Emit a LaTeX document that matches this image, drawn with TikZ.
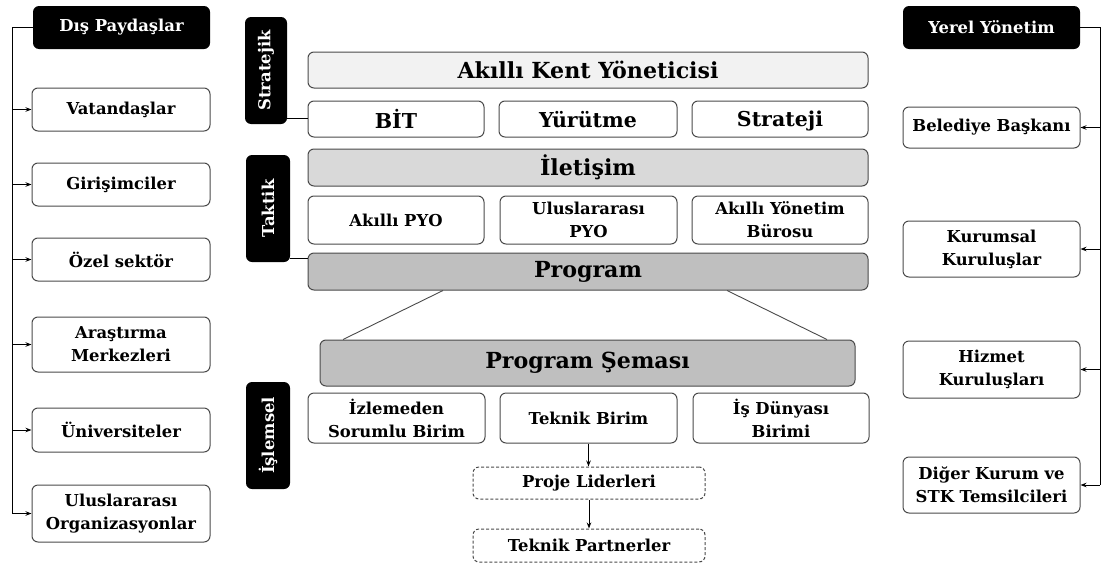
\documentclass[tikz,border=0pt]{standalone}
\usepackage{fontspec}
\newfontfamily\tnr{DejaVu Serif}[Scale=0.82]
\usetikzlibrary{arrows.meta}
\definecolor{bordergray}{HTML}{4A4A4A}
\definecolor{fillA}{HTML}{F2F2F2}
\definecolor{fillB}{HTML}{D9D9D9}
\definecolor{fillC}{HTML}{BFBFBF}
\tikzset{
  base/.style={rounded corners=6pt, inner sep=0pt, align=center, font=\tnr\bfseries\fontsize{20}{23}\selectfont},
  wbox/.style={base, draw=bordergray, line width=1pt, fill=white},
  dbox/.style={base, draw=bordergray, line width=1pt, fill=white, dashed, dash pattern=on 3pt off 2pt},
  bbox/.style={base, fill=black, text=white},
  big/.style={font=\tnr\bfseries\fontsize{27}{30}\selectfont},
  mid/.style={font=\tnr\bfseries\fontsize{25}{28}\selectfont},
  conn/.style={draw=black, line width=1pt},
  arr/.style={conn, -{Stealth[length=6pt,width=4.5pt]}},
  slant/.style={draw=bordergray, line width=0.9pt}
}
\begin{document}
\begin{tikzpicture}[x=1pt,y=-1pt]
\useasboundingbox (0,0) rectangle (1102,565);
% Left column
\node[bbox, minimum width=177, minimum height=43] (dis) at (121.5,27.5) {Dış Paydaşlar};
\node[wbox, minimum width=178, minimum height=43] (vat) at (121,109.5) {Vatandaşlar};
\node[wbox, minimum width=178, minimum height=43] (gir) at (121,184.5) {Girişimciler};
\node[wbox, minimum width=178, minimum height=43] (oze) at (121,259.5) {Özel sektör};
\node[wbox, minimum width=178, minimum height=55] (ara) at (121,344.5) {Araştırma\\Merkezleri};
\node[wbox, minimum width=178, minimum height=44] (uni) at (121,430) {Üniversiteler};
\node[wbox, minimum width=178, minimum height=57] (ulu) at (121,513.5) {Uluslararası\\Organizasyonlar};
\coordinate (L) at (12,27.5);
\draw[conn] (dis.west) -- (L) -- (L |- ulu.west);
\foreach \n in {vat,gir,oze,ara,uni,ulu}{
  \draw[arr] (L |- \n.west) -- (\n.west);
}
% Level labels
\node[bbox, minimum width=42, minimum height=107] (strat) at (266,70.5) {\rotatebox{90}{Stratejik}};
\node[bbox, minimum width=44, minimum height=107] (takt) at (268,208.5) {\rotatebox{90}{Taktik}};
\node[bbox, minimum width=44, minimum height=107] (isl) at (268,435.5) {\rotatebox{90}{İşlemsel}};
% Center
\node[wbox, fill=fillA, big, minimum width=560, minimum height=36] (aky) at (588,70) {Akıllı Kent Yöneticisi};
\node[wbox, mid, minimum width=176, minimum height=36, text depth=0pt] (bit) at (396,119) {BİT};
\node[wbox, mid, minimum width=178, minimum height=36, text depth=0pt] (yur) at (588,119) {Yürütme};
\node[wbox, mid, minimum width=176, minimum height=36, text depth=0pt] (str) at (780,119) {Strateji};
\node[wbox, fill=fillB, big, minimum width=560, minimum height=37] (ile) at (588,167.5) {İletişim};
\node[wbox, minimum width=176, minimum height=48] (apyo) at (396,220) {Akıllı PYO};
\node[wbox, minimum width=177, minimum height=48] (upyo) at (588.5,220) {Uluslararası\\PYO};
\node[wbox, minimum width=176, minimum height=48] (ayb) at (780,220) {Akıllı Yönetim\\Bürosu};
\node[wbox, fill=fillC, big, minimum width=560, minimum height=37] (prog) at (588,271.5) {Program};
\node[wbox, fill=fillC, big, minimum width=535, minimum height=46] (sema) at (587.5,363) {Program Şeması};
\node[wbox, minimum width=177, minimum height=50] (izl) at (396.5,418) {İzlemeden\\Sorumlu Birim};
\node[wbox, minimum width=177, minimum height=50] (tek) at (588.5,418) {Teknik Birim};
\node[wbox, minimum width=176, minimum height=50] (isd) at (781,418) {İş Dünyası\\Birimi};
\node[dbox, minimum width=232, minimum height=32] (pl) at (589,483) {Proje Liderleri};
\node[dbox, minimum width=232, minimum height=33] (tp) at (589,545.5) {Teknik Partnerler};
% center connectors
\draw[conn] ([yshift=6pt]strat.south east) coordinate (sk) -- (sk -| bit.west);
\draw[conn] ([yshift=4pt]takt.south east) coordinate (tk) -- (tk -| prog.west);
\draw[slant] ([xshift=-145pt]prog.south) -- ([xshift=-244.5pt]sema.north);
\draw[slant] ([xshift=139pt]prog.south) -- ([xshift=239.5pt]sema.north);
\draw[arr] (tek.south) -- (tek.south |- pl.north);
\draw[arr] (pl.south) -- (tp.north);
% Right column
\node[bbox, minimum width=177, minimum height=43] (yer) at (991.5,27.5) {Yerel Yönetim};
\node[wbox, minimum width=177, minimum height=41] (bel) at (991.5,127.5) {Belediye Başkanı};
\node[wbox, minimum width=177, minimum height=56] (kur) at (991.5,249) {Kurumsal\\Kuruluşlar};
\node[wbox, minimum width=177, minimum height=57] (hiz) at (991.5,369.5) {Hizmet\\Kuruluşları};
\node[wbox, minimum width=177, minimum height=56] (dig) at (991.5,485) {Diğer Kurum ve\\STK Temsilcileri};
\coordinate (R) at (1100,27.5);
\draw[conn] (yer.east) -- (R) -- (R |- dig.east);
\foreach \n in {bel,kur,hiz,dig}{
  \draw[arr] (R |- \n.east) -- (\n.east);
}
\end{tikzpicture}
\end{document}
